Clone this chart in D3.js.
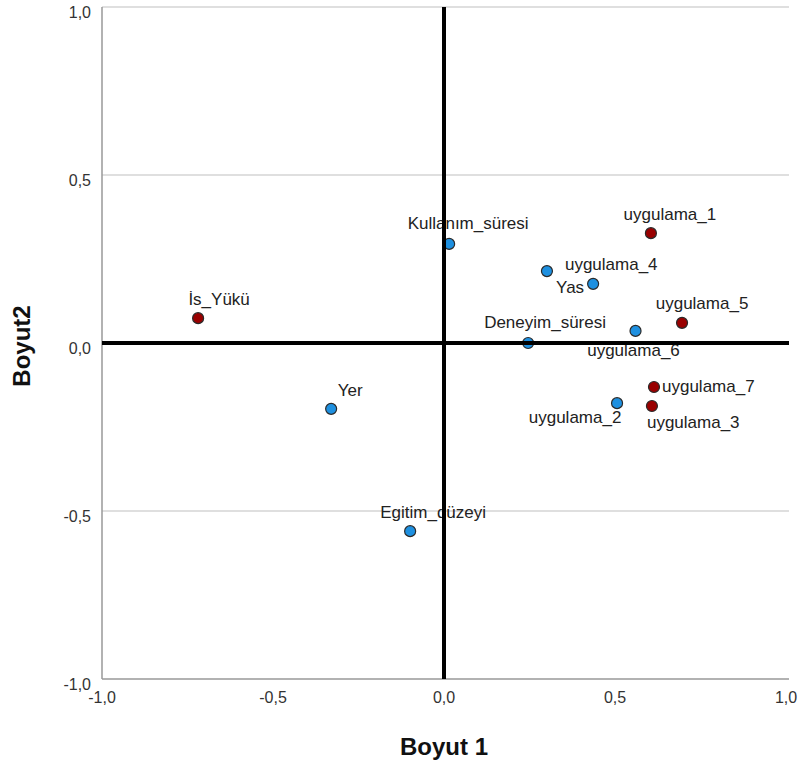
<!DOCTYPE html>
<html>
<head>
<meta charset="utf-8">
<script src="https://cdn.jsdelivr.net/npm/d3@7"></script>
<style>
  html, body { margin: 0; padding: 0; background: #fff; }
  svg { display: block; }
</style>
</head>
<body>
<svg id="chart" width="800" height="769"></svg>
<script>
// Variable names and their coordinates on the two dimensions
const names = [
  "Kullanım_süresi", "uygulama_1", "uygulama_4", "Yas", "uygulama_5",
  "uygulama_6", "Deneyim_süresi", "İs_Yükü", "Yer", "Egitim_düzeyi",
  "uygulama_7", "uygulama_3", "uygulama_2"
];
const dim1 = [0.015, 0.605, 0.301, 0.436, 0.696, 0.560, 0.246, -0.719, -0.330, -0.099, 0.614, 0.608, 0.506];
const dim2 = [0.295, 0.327, 0.214, 0.176, 0.060, 0.036, 0.000, 0.074, -0.196, -0.560, -0.131, -0.1875, -0.179];
// 1 = blue group, 2 = red group
const group = [1, 2, 1, 1, 2, 1, 1, 2, 1, 1, 2, 2, 1];

const tickValues = [-1.0, -0.5, 0.0, 0.5, 1.0];
const xTitle = "Boyut 1";
const yTitle = "Boyut2";

// Label placement relative to each point (pixels)
const labelLayout = [
  { dx: 19, dy: -15, anchor: "middle" },
  { dx: 19, dy: -13, anchor: "middle" },
  { dx: 18, dy: -1, anchor: "start" },
  { dx: -9, dy: 9, anchor: "end" },
  { dx: 20, dy: -14, anchor: "middle" },
  { dx: -2, dy: 25, anchor: "middle" },
  { dx: -44, dy: -15, anchor: "start" },
  { dx: 21, dy: -13, anchor: "middle" },
  { dx: 19, dy: -13, anchor: "middle" },
  { dx: 23, dy: -13, anchor: "middle" },
  { dx: 8, dy: 5, anchor: "start" },
  { dx: -5, dy: 22, anchor: "start" },
  { dx: -42, dy: 20, anchor: "middle" }
];

const colors = { 1: "#1e90e0", 2: "#990000" };

const svg = d3.select("#chart");
const plotLeft = 102, plotRight = 786, plotTop = 7, plotBottom = 679, lineEnd = 789;

const x = d3.scaleLinear().domain([-1, 1]).range([plotLeft, plotRight]);
const y = d3.scaleLinear().domain([-1, 1]).range([plotBottom, plotTop]);

const fmt = v => d3.format(".1f")(v).replace(".", ",").replace("−", "-");

// Horizontal grid lines
svg.append("g").selectAll("line")
  .data(tickValues.filter(v => v !== 0 && v !== -1))
  .join("line")
  .attr("x1", plotLeft).attr("x2", lineEnd)
  .attr("y1", d => y(d)).attr("y2", d => y(d))
  .attr("stroke", "#d4d4d4").attr("stroke-width", 1.5);

// Left and bottom axis frame
svg.append("line")
  .attr("x1", plotLeft).attr("x2", plotLeft).attr("y1", y(1)).attr("y2", y(-1))
  .attr("stroke", "#999").attr("stroke-width", 1.5);
svg.append("line")
  .attr("x1", plotLeft).attr("x2", lineEnd).attr("y1", y(-1)).attr("y2", y(-1))
  .attr("stroke", "#999").attr("stroke-width", 1.5);

// Y tick labels
svg.append("g").selectAll("text")
  .data(tickValues)
  .join("text")
  .attr("x", plotLeft - 11)
  .attr("y", d => y(d) + 11)
  .attr("text-anchor", "end")
  .attr("font-family", "Liberation Sans, Arial, sans-serif")
  .attr("font-size", 16)
  .attr("fill", "#333")
  .text(fmt);

// X tick labels
svg.append("g").selectAll("text")
  .data(tickValues)
  .join("text")
  .attr("x", d => x(d))
  .attr("y", plotBottom + 24)
  .attr("text-anchor", "middle")
  .attr("font-family", "Liberation Sans, Arial, sans-serif")
  .attr("font-size", 16)
  .attr("fill", "#333")
  .text(fmt);

// Axis titles
svg.append("text")
  .attr("x", x(0))
  .attr("y", 755)
  .attr("text-anchor", "middle")
  .attr("font-family", "Liberation Sans, Arial, sans-serif")
  .attr("font-size", 24)
  .attr("font-weight", "bold")
  .attr("fill", "#111")
  .text(xTitle);

svg.append("text")
  .attr("transform", `translate(30, ${y(0) + 3}) rotate(-90)`)
  .attr("text-anchor", "middle")
  .attr("font-family", "Liberation Sans, Arial, sans-serif")
  .attr("font-size", 24)
  .attr("font-weight", "bold")
  .attr("fill", "#111")
  .text(yTitle);

const rows = names.map((n, i) => ({ name: n, d1: dim1[i], d2: dim2[i], g: group[i], lab: labelLayout[i] }));

// Point labels
svg.append("g").selectAll("text")
  .data(rows)
  .join("text")
  .attr("x", d => x(d.d1) + d.lab.dx)
  .attr("y", d => y(d.d2) + d.lab.dy)
  .attr("text-anchor", d => d.lab.anchor)
  .attr("font-family", "Liberation Sans, Arial, sans-serif")
  .attr("font-size", 17)
  .attr("fill", "#222")
  .text(d => d.name);

// Points
svg.append("g").selectAll("circle")
  .data(rows)
  .join("circle")
  .attr("cx", d => x(d.d1))
  .attr("cy", d => y(d.d2))
  .attr("r", 5.5)
  .attr("fill", d => colors[d.g])
  .attr("stroke", "#2a2a2a")
  .attr("stroke-width", 1.2);

// Reference lines through the origin
svg.append("line")
  .attr("x1", plotLeft).attr("x2", lineEnd).attr("y1", y(0)).attr("y2", y(0))
  .attr("stroke", "#000").attr("stroke-width", 4);
svg.append("line")
  .attr("x1", x(0)).attr("x2", x(0)).attr("y1", y(1)).attr("y2", y(-1))
  .attr("stroke", "#000").attr("stroke-width", 4);
</script>
</body>
</html>
